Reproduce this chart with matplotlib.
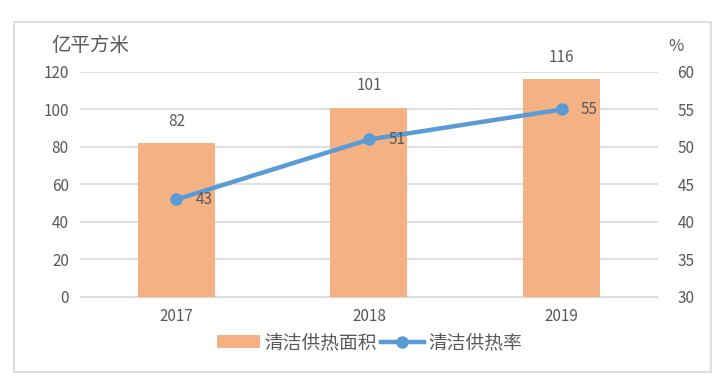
import matplotlib
matplotlib.use("Agg")
import matplotlib.pyplot as plt
from matplotlib.patches import Rectangle

plt.rcParams['font.family'] = ['Noto Sans CJK SC', 'DejaVu Sans']

years = ['2017', '2018', '2019']
area = [82, 101, 116]
rate = [43, 51, 55]

bar_color = '#F4B183'
line_color = '#5B9BD5'
text_color = '#595959'
grid_color = '#D9D9D9'

fig = plt.figure(figsize=(7.27, 3.86), dpi=100)
ax = fig.add_axes([0.110, 0.2306, 0.795, 0.5829])
ax2 = ax.twinx()

x = list(range(len(years)))
bars = ax.bar(x, area, width=0.40, color=bar_color, zorder=2, label='清洁供热面积')
ax.set_xlim(-0.5, 2.5)
ax.set_ylim(0, 120)
ax.set_yticks(range(0, 121, 20))
ax.yaxis.grid(True, color=grid_color, linewidth=1.2, zorder=0)
ax.set_axisbelow(True)
for s in ax.spines.values():
    s.set_visible(False)
ax.spines['bottom'].set_visible(True)
ax.spines['bottom'].set_color(grid_color)
ax.set_xticks(x)
ax.set_xticklabels(years)
ax.tick_params(axis='both', length=0, labelsize=11, labelcolor=text_color, pad=8)

for xi, v in zip(x, area):
    ax.text(xi, v + 7, str(v), ha='center', va='bottom', fontsize=11, color=text_color)

line, = ax2.plot(x, rate, color=line_color, linewidth=3.2, marker='o', markersize=8,
                 label='清洁供热率', zorder=3)
ax2.set_ylim(30, 60)
ax2.set_yticks(range(30, 61, 5))
for s in ax2.spines.values():
    s.set_visible(False)
ax2.tick_params(axis='y', length=0, labelsize=11, labelcolor=text_color, pad=14)
for xi, v in zip(x, rate):
    ax2.text(xi + 0.1, v, str(v), ha='left', va='center', fontsize=11, color=text_color)

fig.text(0.071, 0.882, '亿平方米', fontsize=14, color=text_color, ha='left', va='center')
fig.text(0.919, 0.880, '%', fontsize=12, color=text_color, ha='left', va='center')

fig.legend([bars, line], ['清洁供热面积', '清洁供热率'], loc='center', bbox_to_anchor=(0.508, 0.112),
           ncol=2, frameon=False, fontsize=13.5, handlelength=2.3, handletextpad=0.25,
           columnspacing=0.2, labelcolor=text_color)

fig.patches.append(Rectangle((14 / 727, 1 - 372 / 386), 697 / 727, 350 / 386,
                             transform=fig.transFigure, fill=False, edgecolor=grid_color,
                             linewidth=1.2))

fig.savefig('out.png', dpi=100)
